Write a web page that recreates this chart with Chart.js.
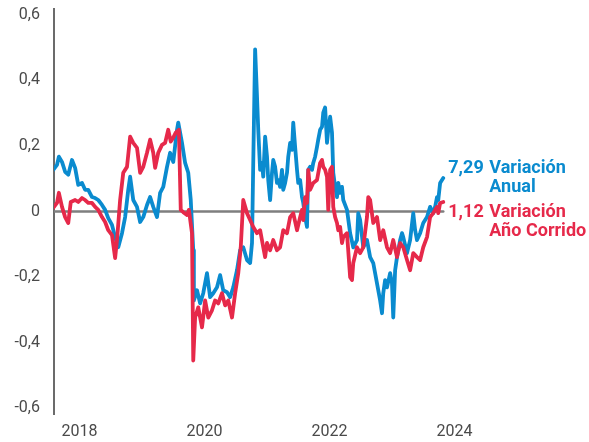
<!DOCTYPE html>
<html>
<head>
<meta charset="utf-8">
<script src="https://cdn.jsdelivr.net/npm/chart.js@4/dist/chart.umd.min.js"></script>
<style>
  body { margin: 0; background: #fff; }
  #wrap { width: 589px; height: 442px; }
</style>
</head>
<body>
<div id="wrap"><canvas id="chart"></canvas></div>
<script>
// años (decimales) y valores
const anualFecha = [2017.58,2017.64,2017.67,2017.72,2017.77,2017.82,2017.88,2017.93,2017.98,2018.04,2018.09,2018.14,2018.20,2018.25,2018.30,2018.36,2018.41,2018.46,2018.52,2018.57,2018.62,2018.68,2018.73,2018.78,2018.81,2018.86,2018.92,2018.97,2019.02,2019.08,
  2019.13,2019.18,2019.24,2019.29,2019.34,2019.40,2019.45,2019.50,2019.56,2019.58,2019.64,2019.69,2019.74,2019.78,2019.82,2019.83,2019.88,2019.93,2019.98,2020.04,2020.09,2020.14,2020.20,2020.25,2020.30,2020.36,2020.41,2020.46,2020.52,2020.57,2020.62,2020.68,
  2020.73,2020.76,2020.78,2020.81,2020.84,2020.86,2020.89,2020.92,2020.94,2020.97,2021.00,2021.02,2021.05,2021.08,2021.10,2021.13,2021.16,2021.18,2021.21,2021.24,2021.26,2021.29,2021.32,2021.34,2021.37,2021.40,2021.42,2021.45,2021.48,2021.50,2021.53,2021.56,2021.58,2021.61,2021.64,2021.66,
  2021.69,2021.72,2021.74,2021.77,2021.80,2021.82,2021.85,2021.88,2021.90,2021.93,2021.96,2021.98,2022.01,2022.04,2022.06,2022.09,2022.12,2022.14,2022.17,2022.20,2022.22,2022.28,
  2022.33,2022.38,2022.44,2022.46,2022.49,2022.54,2022.60,2022.65,2022.70,2022.76,2022.81,2022.84,2022.86,2022.89,2022.92,2022.97,2023.00,2023.02,2023.05,2023.08,2023.13,2023.16,2023.18,2023.24,2023.29,2023.34,2023.37,2023.40,2023.45,2023.50,2023.56,2023.61,2023.66,2023.69,2023.72,2023.74,2023.77,2023.82];
const anualValor = [0.127,0.142,0.167,0.151,0.121,0.112,0.157,0.133,0.081,0.087,0.066,0.066,0.044,0.041,0.035,0.020,0.005,-0.020,-0.041,-0.078,-0.109,-0.066,-0.017,0.066,0.106,0.035,0.014,-0.032,-0.017,0.020,
  0.044,0.014,-0.017,0.057,0.075,0.136,0.179,0.151,0.249,0.271,0.209,0.148,0.118,0.035,-0.118,-0.271,-0.240,-0.280,-0.249,-0.188,-0.261,-0.249,-0.231,-0.194,-0.240,-0.246,-0.261,-0.231,-0.179,-0.118,-0.109,-0.148,
  -0.157,-0.096,0.148,0.494,0.350,0.249,0.127,0.148,0.106,0.228,0.167,0.096,0.035,0.118,0.157,0.136,0.087,0.096,0.075,0.127,0.066,0.087,0.118,0.167,0.209,0.188,0.271,0.197,0.127,0.087,0.096,0.044,0.026,-0.017,-0.047,0.127,
  0.136,0.127,0.148,0.167,0.197,0.219,0.249,0.258,0.301,0.317,0.209,0.249,0.289,0.240,0.118,0.075,0.044,0.087,0.057,0.075,0.035,0.005,
  -0.066,-0.109,-0.087,-0.005,-0.026,-0.109,-0.087,-0.139,-0.157,-0.219,-0.271,-0.310,-0.249,-0.209,-0.231,-0.188,-0.219,-0.323,-0.179,-0.139,-0.087,-0.066,-0.078,-0.127,-0.087,-0.005,-0.057,-0.087,-0.066,-0.035,-0.017,0.014,-0.005,0.014,0.044,0.035,0.087,0.102];

const corridoFecha = [2017.58,2017.64,2017.67,2017.72,2017.77,2017.82,2017.86,2017.93,2017.98,2018.04,2018.09,2018.14,2018.20,2018.25,2018.30,2018.36,2018.41,2018.46,2018.52,2018.57,2018.60,2018.65,2018.70,2018.76,2018.81,2018.86,2018.92,2018.97,2019.02,2019.08,
  2019.13,2019.18,2019.21,2019.26,2019.32,2019.37,2019.42,2019.46,2019.50,2019.54,2019.59,2019.62,2019.66,2019.72,2019.75,2019.80,2019.82,2019.85,2019.90,2019.96,2020.01,2020.06,2020.12,2020.17,2020.22,2020.28,2020.33,2020.38,2020.44,2020.49,2020.54,2020.58,2020.62,2020.68,
  2020.73,2020.78,2020.84,2020.89,2020.94,2020.97,2021.00,2021.05,2021.10,2021.16,2021.21,2021.26,2021.32,2021.37,2021.42,2021.48,2021.53,2021.56,2021.58,2021.61,2021.64,2021.66,2021.69,2021.74,2021.80,2021.85,2021.88,2021.90,2021.93,2021.96,2021.98,2022.01,2022.04,2022.06,2022.09,2022.12,2022.14,2022.17,2022.20,2022.22,2022.28,
  2022.33,2022.36,2022.38,2022.44,2022.49,2022.54,2022.60,2022.62,2022.65,2022.70,2022.76,2022.81,2022.86,2022.92,2022.97,2023.02,2023.08,2023.13,2023.18,2023.24,2023.29,2023.34,2023.40,2023.45,2023.50,2023.56,2023.61,2023.66,2023.69,2023.72,2023.74,2023.77,2023.82];
const corridoValor = [0.011,0.026,0.057,0.014,-0.017,-0.035,0.029,0.035,0.029,0.041,0.035,0.026,0.026,0.014,0.005,-0.017,-0.032,-0.057,-0.072,-0.142,-0.087,0.035,0.118,0.136,0.228,0.209,0.194,0.118,0.136,0.179,
  0.219,0.179,0.133,0.179,0.203,0.209,0.249,0.213,0.225,0.240,0.249,0.005,-0.002,-0.011,0.005,-0.066,-0.454,-0.323,-0.292,-0.353,-0.271,-0.323,-0.301,-0.271,-0.280,-0.249,-0.286,-0.271,-0.323,-0.249,-0.188,-0.109,0.035,-0.005,
  -0.026,-0.047,-0.066,-0.057,-0.109,-0.139,-0.096,-0.118,-0.087,-0.118,-0.109,-0.057,-0.066,-0.017,-0.005,-0.057,-0.017,0.005,-0.026,0.044,0.026,0.127,0.066,0.087,0.096,0.148,0.157,0.136,0.127,0.106,0.005,0.127,0.136,0.014,-0.017,-0.035,-0.057,-0.047,-0.096,-0.078,-0.066,
  -0.200,-0.209,-0.157,-0.109,-0.127,-0.109,-0.017,0.044,0.035,-0.035,-0.017,-0.087,-0.057,-0.109,-0.127,-0.087,-0.139,-0.096,-0.109,-0.148,-0.179,-0.127,-0.139,-0.148,-0.109,-0.078,-0.017,-0.005,0.005,0.014,-0.005,0.026,0.029];

const yTicks = [-0.6, -0.4, -0.2, 0, 0.2, 0.4, 0.6];
const xTicks = [2018, 2020, 2022, 2024];

const anualTexto = ['7,29', 'Variación', 'Anual'];
const corridoTexto = ['1,12', 'Variación', 'Año Corrido'];

const azul = '#0a8bcf';
const rojo = '#e6294a';

const toPoints = (xs, ys) => xs.map((x, i) => ({ x: x, y: ys[i] }));

// textos al final de las series
const endLabels = {
  id: 'endLabels',
  afterDraw(chart) {
    const { ctx, scales } = chart;
    const x0 = scales.x.getPixelForValue(anualFecha[anualFecha.length - 1]);
    const y0 = scales.y.getPixelForValue(0);
    const put = (txt, color, x, y) => {
      ctx.save();
      ctx.translate(x, y);
      ctx.scale(0.95, 1);
      ctx.fillStyle = color;
      ctx.font = 'bold 19px Roboto';
      ctx.textBaseline = 'middle';
      ctx.textAlign = 'left';
      ctx.fillText(txt, 0, 0);
      ctx.restore();
    };
    put(anualTexto[0], azul, x0 + 5, y0 - 43);
    put(anualTexto[1], azul, x0 + 46, y0 - 43);
    put(anualTexto[2], azul, x0 + 46, y0 - 24);
    put(corridoTexto[0], rojo, x0 + 5, y0 + 1);
    put(corridoTexto[1], rojo, x0 + 46, y0 + 1);
    put(corridoTexto[2], rojo, x0 + 46, y0 + 20);
  }
};

Chart.defaults.font.family = 'Roboto';

new Chart(document.getElementById('chart'), {
  type: 'line',
  data: {
    datasets: [
      {
        data: toPoints(corridoFecha, corridoValor),
        borderColor: rojo,
        borderWidth: 3.8,
        pointRadius: 0,
        order: 0
      },
      {
        data: toPoints(anualFecha, anualValor),
        borderColor: azul,
        borderWidth: 3.8,
        pointRadius: 0,
        order: 1
      },
      {
        data: [{ x: 2017.592, y: 0 }, { x: anualFecha[anualFecha.length - 1], y: 0 }],
        borderColor: '#7f7f7f',
        borderWidth: 2.5,
        pointRadius: 0,
        order: 2
      }
    ]
  },
  options: {
    responsive: true,
    maintainAspectRatio: false,
    animation: false,
    layout: { padding: { top: 9, right: 0, left: 0, bottom: 0 } },
    plugins: { legend: { display: false }, tooltip: { enabled: false } },
    elements: { line: { tension: 0, borderJoinStyle: 'round', borderCapStyle: 'round' } },
    scales: {
      x: {
        type: 'linear',
        min: 2017.592,
        max: 2026.152,
        grid: { display: false, drawTicks: false },
        border: { display: false },
        afterBuildTicks: s => { s.ticks = xTicks.map(v => ({ value: v })); },
        afterFit: s => { s.height = 28; s.paddingLeft = 0; s.paddingRight = 0; },
        ticks: {
          padding: 8,
          color: '#4a4a4a',
          font: { size: 16 },
          maxRotation: 0,
          callback: v => String(v)
        }
      },
      y: {
        min: -0.617,
        max: 0.617,
        grid: { display: false, drawTicks: false },
        border: { display: true, color: '#6b6b6b', width: 2 },
        afterBuildTicks: s => { s.ticks = yTicks.map(v => ({ value: v })); },
        afterFit: s => { s.width = 54; s.paddingTop = 0; s.paddingBottom = 0; },
        ticks: {
          padding: 14,
          color: '#4a4a4a',
          font: { size: 16 },
          callback: v => v === 0 ? '0' : v.toFixed(1).replace('.', ',')
        }
      }
    }
  },
  plugins: [endLabels]
});
</script>
</body>
</html>
